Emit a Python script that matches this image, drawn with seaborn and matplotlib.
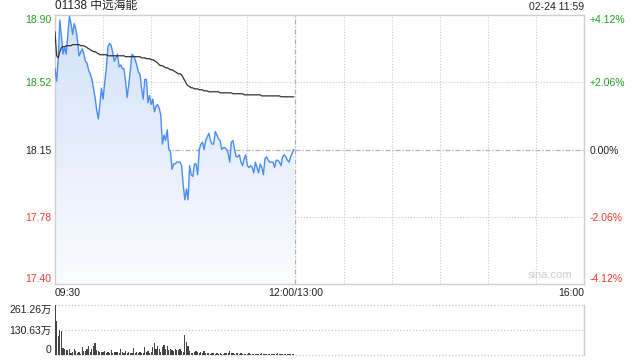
import numpy as np
import pandas as pd
import matplotlib
matplotlib.use("Agg")
import matplotlib.pyplot as plt
from matplotlib.colors import LinearSegmentedColormap
import seaborn as sns

# ---------------- data ----------------
title = "01138 中远海能"
stamp = "02-24 11:59"
prev_close = 18.15
limit_pct = 4.12

price = [
    18.60, 18.53, 18.65, 18.87, 18.78, 18.68, 18.72, 18.68, 18.79, 18.89,
    18.85, 18.79, 18.85, 18.82, 18.76, 18.67, 18.69, 18.71, 18.68, 18.64,
    18.63, 18.59, 18.57, 18.54, 18.49, 18.44, 18.37, 18.32, 18.40, 18.49,
    18.43, 18.52, 18.60, 18.72, 18.74, 18.73, 18.69, 18.64, 18.66, 18.68,
    18.61, 18.62, 18.60, 18.60, 18.53, 18.44, 18.51, 18.59, 18.68, 18.67,
    18.65, 18.62, 18.58, 18.57, 18.49, 18.43, 18.54, 18.54, 18.41, 18.45,
    18.40, 18.43, 18.36, 18.39, 18.40, 18.38, 18.34, 18.18, 18.23, 18.20,
    18.26, 18.15, 18.14, 18.04, 18.07, 18.07, 18.08, 18.08, 18.08, 18.06,
    17.95, 17.87, 17.93, 17.87, 18.06, 18.01, 18.00, 18.07, 18.07, 18.01,
    18.15, 18.18, 18.19, 18.15, 18.20, 18.22, 18.24, 18.20, 18.18, 18.18,
    18.25, 18.23, 18.21, 18.20, 18.15, 18.16, 18.16, 18.15, 18.13, 18.08,
    18.19, 18.20, 18.15, 18.11, 18.11, 18.12, 18.08, 18.06, 18.10, 18.12,
    18.06, 18.05, 18.06, 18.05, 18.02, 18.08, 18.05, 18.02, 18.07, 18.05,
    18.01, 18.10, 18.11, 18.09, 18.08, 18.08, 18.08, 18.05, 18.09, 18.09,
    18.08, 18.06, 18.11, 18.12, 18.11, 18.09, 18.08, 18.11, 18.13, 18.15,
]

avg_price = [
    18.805, 18.671, 18.660, 18.694, 18.716, 18.722, 18.722, 18.727, 18.727, 18.727,
    18.727, 18.733, 18.733, 18.733, 18.733, 18.733, 18.727, 18.727, 18.727, 18.722,
    18.716, 18.710, 18.705, 18.699, 18.694, 18.694, 18.688, 18.683, 18.677, 18.677,
    18.677, 18.677, 18.677, 18.671, 18.671, 18.671, 18.671, 18.671, 18.671, 18.671,
    18.671, 18.671, 18.671, 18.671, 18.666, 18.666, 18.666, 18.666, 18.666, 18.666,
    18.666, 18.666, 18.666, 18.666, 18.660, 18.660, 18.660, 18.655, 18.655, 18.655,
    18.649, 18.649, 18.644, 18.638, 18.632, 18.621, 18.616, 18.616, 18.610, 18.604,
    18.604, 18.599, 18.593, 18.593, 18.588, 18.582, 18.577, 18.571, 18.571, 18.565,
    18.549, 18.532, 18.515, 18.504, 18.499, 18.493, 18.493, 18.487, 18.487, 18.487,
    18.482, 18.482, 18.482, 18.476, 18.476, 18.476, 18.471, 18.471, 18.471, 18.471,
    18.471, 18.471, 18.471, 18.465, 18.465, 18.465, 18.465, 18.465, 18.465, 18.465,
    18.465, 18.460, 18.460, 18.460, 18.460, 18.460, 18.460, 18.460, 18.454, 18.454,
    18.454, 18.454, 18.454, 18.454, 18.454, 18.454, 18.454, 18.454, 18.454, 18.448,
    18.448, 18.448, 18.448, 18.448, 18.448, 18.448, 18.448, 18.448, 18.448, 18.448,
    18.448, 18.443, 18.443, 18.443, 18.443, 18.443, 18.443, 18.443, 18.443, 18.443,
]

# volume in 万 shares per minute
volume = [
    261.26, 178, 99, 131, 125, 37, 31, 26, 26, 31,
    10, 16, 31, 21, 10, 16, 5, 42, 21, 21,
    31, 47, 16, 31, 47, 63, 26, 21, 16, 16,
    16, 21, 10, 16, 10, 26, 10, 16, 16, 16,
    10, 31, 16, 10, 21, 10, 16, 10, 10, 37,
    10, 16, 10, 16, 10, 10, 42, 16, 21, 10,
    16, 42, 63, 31, 47, 31, 16, 42, 52, 31,
    47, 26, 31, 26, 21, 31, 26, 26, 31, 21,
    16, 105, 68, 47, 21, 10, 10, 16, 21, 16,
    10, 16, 10, 21, 10, 10, 10, 5, 10, 10,
    5, 10, 5, 10, 5, 5, 10, 10, 10, 21,
    10, 10, 5, 10, 10, 5, 10, 5, 5, 5,
    5, 10, 5, 5, 5, 5, 5, 5, 5, 10,
    5, 5, 5, 5, 5, 5, 5, 5, 5, 10,
    5, 5, 5, 5, 5, 5, 5, 5, 5, 5,
]

price_labels = ["17.40", "17.78", "18.15", "18.52", "18.90"]
pct_labels = ["-4.12%", "-2.06%", "0.00%", "+2.06%", "+4.12%"]
vol_labels = ["0", "130.63万", "261.26万"]
time_labels = ["09:30", "12:00/13:00", "16:00"]
time_ticks = [0, 150, 330]

# ---------------- style ----------------
sns.set_theme(style="white")
plt.rcParams["font.family"] = ["Liberation Sans", "Noto Sans CJK SC", "DejaVu Sans"]

GREEN = "#1f9e1f"
RED = "#f0392b"
BLACK = "#222222"
GRID = "#c8c8c8"
SPINE = "#cfcfcf"
dotted = (0, (1, 1.6))
dashdot = (0, (4, 1.5, 1, 1.5))

fig = plt.figure(figsize=(6.4, 3.6), dpi=100)
ax = fig.add_axes([55 / 640, 1 - 284 / 360, 529 / 640, 269 / 360])
axv = fig.add_axes([55 / 640, 1 - 355 / 360, 529 / 640, 50 / 360])

t = np.arange(len(price))
df = pd.DataFrame({"t": t, "price": price, "avg": avg_price, "vol": volume})

ymin = prev_close * (1 - limit_pct / 100)
ymax = prev_close * (1 + limit_pct / 100)
yt = [ymin, prev_close * (1 - limit_pct / 200), prev_close,
      prev_close * (1 + limit_pct / 200), ymax]

# gradient area under the price line
poly = ax.fill_between(df["t"], df["price"], ymin, color="none", lw=0)
grad = np.linspace(0, 1, 256).reshape(-1, 1)
cmap = LinearSegmentedColormap.from_list("g", ["#fbfcff", "#d2e1fa"])
im = ax.imshow(grad, extent=[0, t[-1], ymin, ymax], origin="lower",
               aspect="auto", cmap=cmap, zorder=1)
im.set_clip_path(poly.get_paths()[0], transform=ax.transData)

# grid lines
for yv in (yt[1], yt[3]):
    ax.axhline(yv, color=GRID, lw=0.8, ls=dotted, zorder=0.5)
ax.axhline(prev_close, color="#b0b0b0", lw=0.9, ls=dashdot, zorder=0.5)
for xv in range(30, 330, 30):
    if xv == 150:
        ax.axvline(xv, color="#b0b0b0", lw=0.9, ls=dashdot, zorder=0.5)
    else:
        ax.axvline(xv, color=GRID, lw=0.8, ls=dotted, zorder=0.5)

sns.lineplot(data=df, x="t", y="price", ax=ax, color="#4a8cf2", lw=1.0, zorder=3)
sns.lineplot(data=df, x="t", y="avg", ax=ax, color="#333333", lw=0.9, zorder=4)

ax.set_xlim(0, 330)
ax.set_ylim(ymin, ymax)
ax.set_xlabel("")
ax.set_ylabel("")
for s in ax.spines.values():
    s.set_color(SPINE)
    s.set_linewidth(1)

ax.set_yticks(yt, price_labels)
ax.tick_params(axis="y", length=0, pad=2.5, labelsize=7.5)
colors = [RED, RED, BLACK, GREEN, GREEN]
for lab, c in zip(ax.get_yticklabels(), colors):
    lab.set_color(c)
ax.get_yticklabels()[0].set_va("bottom")
ax.get_yticklabels()[-1].set_va("top")

ax.set_xticks(time_ticks, time_labels)
ax.tick_params(axis="x", length=0, pad=3, labelsize=7.5, labelcolor=BLACK)
xl = ax.get_xticklabels()
xl[0].set_ha("left")
xl[1].set_ha("center")
xl[2].set_ha("right")

ax2 = ax.twinx()
ax2.set_ylim(ymin, ymax)
ax2.set_yticks(yt, pct_labels)
ax2.tick_params(axis="y", length=0, pad=4, labelsize=7.5)
for lab, c in zip(ax2.get_yticklabels(), colors):
    lab.set_color(c)
ax2.get_yticklabels()[0].set_va("bottom")
ax2.get_yticklabels()[-1].set_va("top")
for s in ax2.spines.values():
    s.set_visible(False)

ax.text(0.0, 1.012, title, transform=ax.transAxes, ha="left", va="bottom",
        fontsize=8.5, color=BLACK)
ax.text(1.0, 1.012, stamp, transform=ax.transAxes, ha="right", va="bottom",
        fontsize=7.5, color=BLACK)
ax.text(0.935, 0.015, "sina.com", transform=ax.transAxes, ha="center",
        va="bottom", fontsize=8, color="#cccccc")

# volume panel
vmax = 261.26
for yv in (0, vmax / 2, vmax):
    axv.axhline(yv, color=GRID, lw=0.9, ls=dotted, zorder=0.5, clip_on=False)
sns.barplot(data=df, x="t", y="vol", ax=axv, native_scale=True, color="#444444",
            width=0.75, errorbar=None, saturation=1, linewidth=0, zorder=2)
axv.set_xlim(0, 330)
axv.set_ylim(0, vmax)
axv.set_xlabel("")
axv.set_ylabel("")
axv.set_xticks([])
axv.set_yticks([0, vmax / 2, vmax], vol_labels)
axv.tick_params(axis="y", length=0, pad=2.5, labelsize=7.5, labelcolor=BLACK)
axv.get_yticklabels()[0].set_va("bottom")
axv.get_yticklabels()[-1].set_va("top")
for k, s in axv.spines.items():
    if k == "right":
        s.set_color(SPINE)
        s.set_linewidth(1)
    else:
        s.set_visible(False)

fig.savefig("out.png", dpi=100)
